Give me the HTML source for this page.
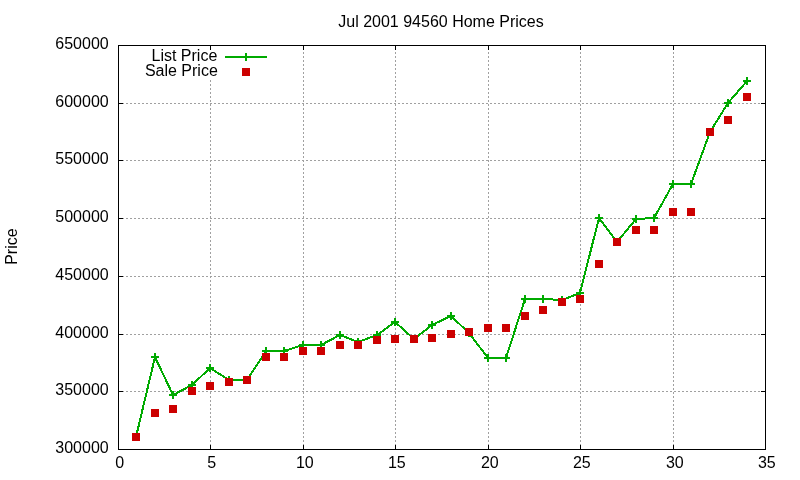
<!DOCTYPE html>
<html lang="en">
<head>
<meta charset="utf-8">
<title>Jul 2001 94560 Home Prices</title>
<style>
html,body{margin:0;padding:0;background:#fff;}
body{width:800px;height:480px;overflow:hidden;}
svg{display:block;}
text{font-family:"Liberation Sans",Arial,Helvetica,sans-serif;font-size:16px;fill:#000;}
</style>
</head>
<body>
<svg width="800" height="480" viewBox="0 0 800 480">
<rect x="0" y="0" width="800" height="480" fill="#ffffff"/>
<g shape-rendering="crispEdges" stroke="#a0a0a0" stroke-width="1" stroke-dasharray="2 2" fill="none">
<line x1="210.5" y1="46" x2="210.5" y2="449" stroke-dashoffset="2"/>
<line x1="303.5" y1="46" x2="303.5" y2="449" stroke-dashoffset="2"/>
<line x1="395.5" y1="46" x2="395.5" y2="449" stroke-dashoffset="2"/>
<line x1="488.5" y1="46" x2="488.5" y2="449" stroke-dashoffset="2"/>
<line x1="580.5" y1="46" x2="580.5" y2="449" stroke-dashoffset="2"/>
<line x1="673.5" y1="46" x2="673.5" y2="449" stroke-dashoffset="2"/>
<line x1="119" y1="391.5" x2="765" y2="391.5" stroke-dashoffset="1"/>
<line x1="119" y1="334.5" x2="765" y2="334.5" stroke-dashoffset="1"/>
<line x1="119" y1="276.5" x2="765" y2="276.5" stroke-dashoffset="1"/>
<line x1="119" y1="218.5" x2="765" y2="218.5" stroke-dashoffset="1"/>
<line x1="119" y1="160.5" x2="765" y2="160.5" stroke-dashoffset="1"/>
<line x1="119" y1="103.5" x2="765" y2="103.5" stroke-dashoffset="1"/>
</g>
<rect x="140" y="50" width="132" height="30" fill="#ffffff"/>
<g shape-rendering="crispEdges" stroke="#000" stroke-width="1" fill="none">
<rect x="118.5" y="45.5" width="647" height="404"/>
<line x1="118.5" y1="445" x2="118.5" y2="450"/>
<line x1="118.5" y1="45" x2="118.5" y2="50"/>
<line x1="210.5" y1="445" x2="210.5" y2="450"/>
<line x1="210.5" y1="45" x2="210.5" y2="50"/>
<line x1="303.5" y1="445" x2="303.5" y2="450"/>
<line x1="303.5" y1="45" x2="303.5" y2="50"/>
<line x1="395.5" y1="445" x2="395.5" y2="450"/>
<line x1="395.5" y1="45" x2="395.5" y2="50"/>
<line x1="488.5" y1="445" x2="488.5" y2="450"/>
<line x1="488.5" y1="45" x2="488.5" y2="50"/>
<line x1="580.5" y1="445" x2="580.5" y2="450"/>
<line x1="580.5" y1="45" x2="580.5" y2="50"/>
<line x1="673.5" y1="445" x2="673.5" y2="450"/>
<line x1="673.5" y1="45" x2="673.5" y2="50"/>
<line x1="765.5" y1="445" x2="765.5" y2="450"/>
<line x1="765.5" y1="45" x2="765.5" y2="50"/>
<line x1="118" y1="449.5" x2="123" y2="449.5"/>
<line x1="761" y1="449.5" x2="766" y2="449.5"/>
<line x1="118" y1="391.5" x2="123" y2="391.5"/>
<line x1="761" y1="391.5" x2="766" y2="391.5"/>
<line x1="118" y1="334.5" x2="123" y2="334.5"/>
<line x1="761" y1="334.5" x2="766" y2="334.5"/>
<line x1="118" y1="276.5" x2="123" y2="276.5"/>
<line x1="761" y1="276.5" x2="766" y2="276.5"/>
<line x1="118" y1="218.5" x2="123" y2="218.5"/>
<line x1="761" y1="218.5" x2="766" y2="218.5"/>
<line x1="118" y1="160.5" x2="123" y2="160.5"/>
<line x1="761" y1="160.5" x2="766" y2="160.5"/>
<line x1="118" y1="103.5" x2="123" y2="103.5"/>
<line x1="761" y1="103.5" x2="766" y2="103.5"/>
<line x1="118" y1="45.5" x2="123" y2="45.5"/>
<line x1="761" y1="45.5" x2="766" y2="45.5"/>
</g>
<g text-anchor="end">
<text x="108.7" y="453">300000</text>
<text x="108.7" y="395">350000</text>
<text x="108.7" y="338">400000</text>
<text x="108.7" y="280">450000</text>
<text x="108.7" y="222">500000</text>
<text x="108.7" y="164">550000</text>
<text x="108.7" y="107">600000</text>
<text x="108.7" y="49">650000</text>
</g>
<g text-anchor="middle">
<text x="119.8" y="468.4">0</text>
<text x="211.8" y="468.4">5</text>
<text x="304.8" y="468.4">10</text>
<text x="396.8" y="468.4">15</text>
<text x="489.8" y="468.4">20</text>
<text x="581.8" y="468.4">25</text>
<text x="674.8" y="468.4">30</text>
<text x="766.8" y="468.4">35</text>
<text x="441" y="27">Jul 2001 94560 Home Prices</text>
<text transform="translate(17.2,246.6) rotate(-90)">Price</text>
</g>
<g text-anchor="end">
<text x="217.3" y="61">List Price</text>
<text x="217.8" y="76">Sale Price</text>
</g>
<g shape-rendering="crispEdges" stroke="#00aa00" stroke-width="2" fill="none" stroke-linejoin="round">
<line x1="225" y1="57" x2="267" y2="57"/>
<line x1="246" y1="53" x2="246" y2="61"/>
<polyline points="136,437 155,357 173,395 192,385 210,368 229,380 247,380 266,351 284,351 303,345 321,345 340,335 358,342 377,335 395,322 414,339 432,325 451,316 469,333 488,358 506,358 525,299 543,299 562,300 580,293 599,218 617,242 636,219 654,218 673,184 691,184 710,132 728,103 747,81"/>
<path d="M132,437h8M136,433v8M151,357h8M155,353v8M169,395h8M173,391v8M188,385h8M192,381v8M206,368h8M210,364v8M225,380h8M229,376v8M243,380h8M247,376v8M262,351h8M266,347v8M280,351h8M284,347v8M299,345h8M303,341v8M317,345h8M321,341v8M336,335h8M340,331v8M354,342h8M358,338v8M373,335h8M377,331v8M391,322h8M395,318v8M410,339h8M414,335v8M428,325h8M432,321v8M447,316h8M451,312v8M465,333h8M469,329v8M484,358h8M488,354v8M502,358h8M506,354v8M521,299h8M525,295v8M539,299h8M543,295v8M558,300h8M562,296v8M576,293h8M580,289v8M595,218h8M599,214v8M613,242h8M617,238v8M632,219h8M636,215v8M650,218h8M654,214v8M669,184h8M673,180v8M687,184h8M691,180v8M706,132h8M710,128v8M724,103h8M728,99v8M743,81h8M747,77v8"/>
</g>
<g shape-rendering="crispEdges" fill="#cc0000" stroke="none">
<rect x="242" y="68" width="8" height="8"/>
<rect x="132" y="433" width="8" height="8"/>
<rect x="151" y="409" width="8" height="8"/>
<rect x="169" y="405" width="8" height="8"/>
<rect x="188" y="387" width="8" height="8"/>
<rect x="206" y="382" width="8" height="8"/>
<rect x="225" y="378" width="8" height="8"/>
<rect x="243" y="376" width="8" height="8"/>
<rect x="262" y="353" width="8" height="8"/>
<rect x="280" y="353" width="8" height="8"/>
<rect x="299" y="347" width="8" height="8"/>
<rect x="317" y="347" width="8" height="8"/>
<rect x="336" y="341" width="8" height="8"/>
<rect x="354" y="341" width="8" height="8"/>
<rect x="373" y="336" width="8" height="8"/>
<rect x="391" y="335" width="8" height="8"/>
<rect x="410" y="335" width="8" height="8"/>
<rect x="428" y="334" width="8" height="8"/>
<rect x="447" y="330" width="8" height="8"/>
<rect x="465" y="328" width="8" height="8"/>
<rect x="484" y="324" width="8" height="8"/>
<rect x="502" y="324" width="8" height="8"/>
<rect x="521" y="312" width="8" height="8"/>
<rect x="539" y="306" width="8" height="8"/>
<rect x="558" y="298" width="8" height="8"/>
<rect x="576" y="295" width="8" height="8"/>
<rect x="595" y="260" width="8" height="8"/>
<rect x="613" y="238" width="8" height="8"/>
<rect x="632" y="226" width="8" height="8"/>
<rect x="650" y="226" width="8" height="8"/>
<rect x="669" y="208" width="8" height="8"/>
<rect x="687" y="208" width="8" height="8"/>
<rect x="706" y="128" width="8" height="8"/>
<rect x="724" y="116" width="8" height="8"/>
<rect x="743" y="93" width="8" height="8"/>
</g>
</svg>
</body>
</html>
